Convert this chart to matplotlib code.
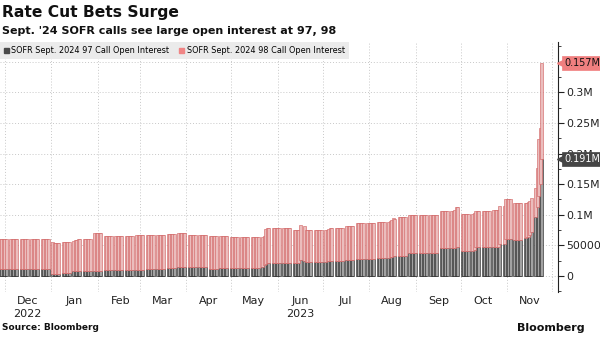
import matplotlib
matplotlib.use("Agg")
import matplotlib.pyplot as plt
import matplotlib.dates as mdates
import matplotlib.ticker as mticker
from matplotlib.patches import Patch
import numpy as np
import pandas as pd

# Open interest, thousands of contracts, one row per week (Mon..Fri)
calls_97 = [
    [11, 11, 11, 11, 11], [11, 11, 11, 11, 11], [11, 11, 11, 11, 11], [11, 11, 11, 11, 11],
    [11, 11, 11, 11, 11], [4, 3, 3, 3, 3], [5, 5, 5, 5, 5], [8, 8, 8, 8, 9],
    [9, 9, 9, 9, 9], [9, 9, 9, 9, 9], [9.5, 9.5, 9.5, 9.5, 9.5], [10, 10, 10, 10, 10],
    [10, 10, 10, 10, 10], [10, 10, 10, 10, 10], [11, 11, 11, 11, 11], [11, 11, 11, 11, 11],
    [12.5, 12.5, 12.5, 12.5, 12.5], [14, 14, 14, 14, 14], [14.7, 14.7, 14.7, 14.7, 14.7], [14.7, 14.7, 14.7, 14.7, 14.7],
    [12, 12, 12, 12, 12], [13.5, 13.5, 13.5, 13.5, 13.5], [12.5, 12.5, 12.5, 12.5, 12.5], [12.5, 12.5, 12.5, 12.5, 12.5],
    [13.5, 13.5, 13.5, 13.5, 13.5], [14, 18, 20, 21, 21], [21.7, 21.7, 21.7, 21.7, 21.7], [21.7, 21.7, 21.7, 21.7, 21.7],
    [20.7, 20.7, 20.7, 20.7, 26], [25, 23, 23, 23, 23], [23, 23, 23, 23, 23], [23, 24, 24, 25, 25],
    [25, 25, 25, 25, 25], [27, 27, 27, 27, 27], [28, 28, 28, 28, 28], [28.5, 28.5, 28.5, 28.5, 28.5],
    [30, 30, 30, 30, 30], [30, 31, 31, 32, 32.6], [32.6, 32.6, 32.6, 32.6, 32.6], [37, 37, 37, 37, 37],
    [37, 37, 37, 37, 37], [37, 37, 37, 37, 37], [46, 46, 46, 46, 46], [46, 46, 46.5, 47, 47],
    [41, 41, 41, 41, 41], [41, 43, 46.8, 46.8, 46.8], [46.8, 46.8, 46.8, 46.8, 46.8], [48, 48, 48, 48, 52],
    [52, 60, 60, 60, 60], [58.7, 58.7, 58.7, 58.7, 58.7], [62, 63, 64, 67, 72], [97, 112, 130, 150, 191],
]
calls_98 = [
    [49, 49, 49, 49, 49], [49, 49, 49, 49, 49], [49, 49, 49, 49, 49], [49, 49, 49, 49, 49],
    [50, 50, 50, 50, 50], [51, 51, 51, 51, 51], [51, 51, 51, 51, 51], [50, 51, 51, 52, 51],
    [51, 51, 51, 51, 51], [61, 61, 61, 61, 61], [56.5, 56.5, 56.5, 56.5, 56.5], [56, 56, 56, 56, 56],
    [56, 56, 56, 56, 56], [57, 57, 57, 57, 57], [56, 56, 56, 56, 56], [56.5, 56.5, 56.5, 56.5, 56.5],
    [56, 56, 56, 56, 56], [56, 56, 56, 56, 56], [53, 53, 53, 53, 53], [53, 53, 53, 53, 53],
    [53, 53, 53, 53, 53], [52.5, 52.5, 52.5, 52.5, 52.5], [51, 51, 51, 51, 51], [51, 51, 51, 51, 51],
    [50, 50, 50, 50, 50], [50, 47, 57, 57, 57], [56, 56, 56, 56, 56], [56, 56, 56, 56, 56],
    [54, 54, 54, 54, 57], [56, 53, 53, 53, 53], [53, 53, 53, 53, 53], [53, 52, 53, 53, 53],
    [53, 53, 53, 53, 53], [54.5, 54.5, 54.5, 54.5, 54.5], [58, 58, 58, 58, 58], [57.5, 57.5, 57.5, 57.5, 57.5],
    [58.6, 58.6, 58.6, 58.6, 58.6], [59, 59, 61, 62, 61], [63, 63, 63, 63, 63], [62.5, 62.5, 62.5, 62.5, 62.5],
    [62.5, 62.5, 62.5, 62.5, 62.5], [62.5, 62.5, 62.5, 62.5, 62.5], [60.5, 60.5, 60.5, 60.5, 60.5], [60.5, 61, 61.5, 65, 65],
    [61, 61, 61, 61, 61], [61, 60, 60, 60, 60], [60, 60, 60, 60, 60], [60, 60, 60, 60, 62],
    [62, 65, 65, 65, 65], [61, 61, 61, 61, 61], [58, 57, 57, 55, 55], [46, 64, 93, 91, 157],
]
first_day = "2022-11-28"
last_day = "2023-11-24"

dates = pd.bdate_range(first_day, last_day)
s97 = np.ravel(calls_97) * 1000
s98 = np.ravel(calls_98) * 1000

fig = plt.figure(figsize=(6, 3.37), dpi=100)
ax = fig.add_axes([0.0, 1 - 292 / 337, 558 / 600, 250 / 337])

ax.bar(dates, s97, width=1.95, color="#a2a2a2", edgecolor="#1a1a1a", linewidth=0.4, zorder=2)
ax.bar(dates, s98, bottom=s97, width=1.95, color="#ebbdbd", edgecolor="#cf5c5c",
       linewidth=0.4, zorder=2)

ax.set_xlim(pd.Timestamp("2022-11-27 18:00"), pd.Timestamp("2023-12-04 18:00"))
ax.set_ylim(-26000, 382000)

# y axis on the right
ax.yaxis.tick_right()
ax.yaxis.set_minor_locator(mticker.MultipleLocator(25000))


def fmt(v, pos):
    if v == 0:
        return "0"
    if v < 100000:
        return f"{v:.0f}"
    return f"{v / 1e6:g}M"


ax.set_yticks(np.arange(0, 350001, 50000))
ax.yaxis.set_major_formatter(mticker.FuncFormatter(fmt))
ax.tick_params(axis="y", which="major", length=4, width=0.8, labelsize=7.8, pad=2, colors="#222222")
ax.tick_params(axis="y", which="minor", length=2, width=0.6, colors="#222222")

# x axis: gridlines at month starts, labels mid-month
ax.xaxis.set_major_locator(mdates.MonthLocator())
ax.xaxis.set_major_formatter(mticker.NullFormatter())
ax.xaxis.set_minor_locator(mdates.MonthLocator(bymonthday=16))
ax.xaxis.set_minor_formatter(mdates.DateFormatter("%b"))
ax.tick_params(axis="x", which="both", length=0, labelsize=8, pad=3, colors="#222222")

ax.grid(True, which="major", linestyle=(0, (1, 2)), color="#c8c8c8", linewidth=0.7, zorder=0)
ax.set_axisbelow(True)

for side in ["left", "top", "bottom"]:
    ax.spines[side].set_visible(False)
ax.spines["right"].set_color("#222222")
ax.spines["right"].set_linewidth(0.8)

# year labels
for day, year in [("2022-12-16", "2022"), ("2023-06-16", "2023")]:
    ax.text(pd.Timestamp(day), -0.088, year, transform=ax.get_xaxis_transform(),
            ha="center", va="center", fontsize=8, color="#222222")

# last value tags: box plus a small pointer at the axis
ytrans = ax.get_yaxis_transform()
px = 1 / 558
last97 = s97[-1]
last98 = s98[-1]
tags = [(last97 + last98, last98, "#f07f7f", "#111111"),
        (last97, last97, "#454545", "white")]
for ypos, val, bg, fg in tags:
    ax.plot([1.0 + 3.5 * px], [ypos], marker="<", markersize=7, color=bg, mec=bg,
            transform=ytrans, clip_on=False, zorder=6)
    ax.text(1.0 + 6 * px, ypos, f"{val / 1e6:.3f}M", transform=ytrans,
            ha="left", va="center", fontsize=6.9, color=fg, zorder=7, clip_on=False,
            bbox=dict(boxstyle="square,pad=0.22", fc=bg, ec=bg, lw=0.5))

# legend
handles = [Patch(color="#4a4a4a"), Patch(color="#f08585")]
labels = ["SOFR Sept. 2024 97 Call Open Interest", "SOFR Sept. 2024 98 Call Open Interest"]
leg = ax.legend(handles, labels, loc="upper left", bbox_to_anchor=(0.0, 1.0), ncol=2,
                fontsize=5.9, frameon=True, fancybox=False, borderaxespad=0,
                handlelength=0.6, handleheight=0.6, handletextpad=0.3, columnspacing=1.2,
                borderpad=0.5)
leg.get_frame().set_facecolor("#ebebeb")
leg.get_frame().set_edgecolor("none")
leg.get_frame().set_alpha(1)

fig.text(0.003, 1 - 12 / 337, "Rate Cut Bets Surge", fontsize=11.2, fontweight="bold",
         ha="left", va="center", color="#111111")
fig.text(0.003, 1 - 31 / 337, "Sept. '24 SOFR calls see large open interest at 97, 98",
         fontsize=8, fontweight="bold", ha="left", va="center", color="#111111")
fig.text(0.003, 1 - 328 / 337, "Source: Bloomberg", fontsize=6.5, fontweight="bold",
         ha="left", va="center", color="#111111")
fig.text(0.975, 1 - 328 / 337, "Bloomberg", fontsize=8, fontweight="bold",
         ha="right", va="center", color="#111111")

fig.savefig("out.png", dpi=100)
